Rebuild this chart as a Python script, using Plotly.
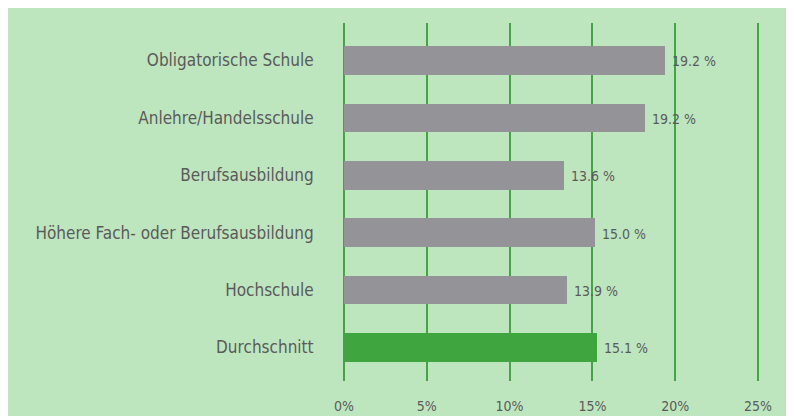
import plotly.graph_objects as go

categories = [
    "Obligatorische Schule",
    "Anlehre/Handelsschule",
    "Berufsausbildung",
    "Höhere Fach- oder Berufsausbildung",
    "Hochschule",
    "Durchschnitt",
]
# bar lengths as drawn in the picture (percent)
bar_values = [19.4, 18.2, 13.3, 15.15, 13.45, 15.25]
# value labels as printed
value_labels = ["19.2 %", "19.2 %", "13.6 %", "15.0 %", "13.9 %", "15.1 %"]
bar_colors = ["#949498", "#949498", "#949498", "#949498", "#949498", "#3fa53f"]
x_ticks = [0, 5, 10, 15, 20, 25]
x_tick_labels = ["0%", "5%", "10%", "15%", "20%", "25%"]

FONT = "Liberation Sans Narrow, DejaVu Sans Condensed, Roboto, sans-serif"
TEXT_COLOR = "#5a5a5a"
BG = "#bee6be"

n = len(categories)
ypos = list(range(n - 1, -1, -1))

fig = go.Figure()
fig.add_trace(go.Bar(
    x=bar_values, y=ypos, orientation="h",
    marker=dict(color=bar_colors, line=dict(width=0)),
    width=0.5, hoverinfo="skip",
))

for v, y, t in zip(bar_values, ypos, value_labels):
    fig.add_annotation(x=v, y=y, text=t, showarrow=False, xanchor="left",
                       xshift=5, yshift=-1,
                       font=dict(family=FONT, size=14, color=TEXT_COLOR))

fig.update_layout(
    width=780, height=408,
    margin=dict(l=334, r=28, t=15, b=35, autoexpand=False),
    paper_bgcolor=BG, plot_bgcolor="rgba(0,0,0,0)",
    showlegend=False, bargap=0,
    font=dict(family=FONT, color=TEXT_COLOR),
    xaxis=dict(range=[-0.12, 25.12], tickvals=x_ticks, ticktext=x_tick_labels,
               showgrid=True, gridcolor="#45a545", gridwidth=1.8,
               zeroline=False, showline=False, automargin=False,
               ticks="outside", ticklen=12, tickcolor="rgba(0,0,0,0)",
               tickfont=dict(family=FONT, size=14, color=TEXT_COLOR),
               fixedrange=True),
    yaxis=dict(range=[-0.584, 5.653], tickvals=ypos, ticktext=categories,
               showgrid=False, zeroline=False, showline=False, automargin=False,
               ticks="outside", ticklen=24, tickcolor="rgba(0,0,0,0)",
               tickfont=dict(family=FONT, size=17, color=TEXT_COLOR),
               fixedrange=True),
)

fig.write_html("out.html")
